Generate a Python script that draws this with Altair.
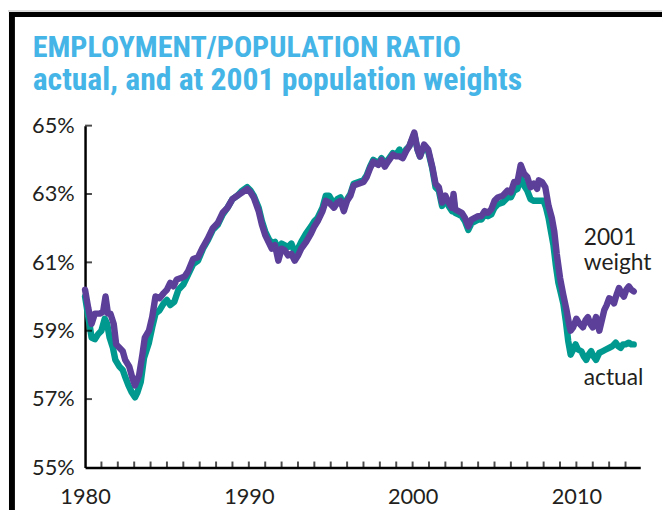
import altair as alt
import pandas as pd

# ---------------- data ----------------
actual_years = [1980.0, 1980.2, 1980.4, 1980.6, 1980.8, 1981.0, 1981.2, 1981.35, 1981.5, 1981.7,
                1981.85, 1982.1, 1982.3, 1982.45, 1982.65, 1982.85, 1983.05, 1983.2, 1983.4, 1983.6,
                1983.9, 1984.1, 1984.3, 1984.55, 1984.8, 1985.0, 1985.2, 1985.45, 1985.7, 1986.0,
                1986.3, 1986.6, 1986.9, 1987.2, 1987.5, 1987.8, 1988.1, 1988.4, 1988.7, 1989.0,
                1989.3, 1989.6, 1989.9, 1990.1, 1990.3, 1990.6, 1990.8, 1991.0, 1991.2, 1991.4,
                1991.6, 1991.8, 1992.0, 1992.2, 1992.4, 1992.6, 1992.8, 1993.0, 1993.2, 1993.5,
                1993.8, 1994.0, 1994.2, 1994.5, 1994.7, 1994.9, 1995.2, 1995.4, 1995.6, 1995.8,
                1996.0, 1996.2, 1996.4, 1996.7, 1997.0, 1997.2, 1997.4, 1997.6, 1997.9, 1998.1,
                1998.3, 1998.5, 1998.8, 1999.0, 1999.2, 1999.4, 1999.6, 1999.8, 2000.1, 2000.3,
                2000.45, 2000.7, 2000.95, 2001.2, 2001.4, 2001.6, 2001.8, 2002.0, 2002.2, 2002.4,
                2002.5, 2002.6, 2002.8, 2003.0, 2003.2, 2003.4, 2003.6, 2003.8, 2004.0, 2004.2,
                2004.4, 2004.6, 2004.8, 2005.0, 2005.2, 2005.5, 2005.8, 2006.0, 2006.2, 2006.4,
                2006.6, 2006.8, 2007.0, 2007.2, 2007.4, 2007.6, 2007.8, 2008.0, 2008.15, 2008.3,
                2008.45, 2008.6, 2008.75, 2008.9, 2009.05, 2009.2, 2009.35, 2009.5, 2009.65, 2009.8,
                2009.95, 2010.1, 2010.3, 2010.45, 2010.6, 2010.75, 2010.9, 2011.05, 2011.2, 2011.4,
                2011.6, 2011.8, 2012.0, 2012.2, 2012.4, 2012.55, 2012.7, 2012.85, 2013.0, 2013.2,
                2013.35, 2013.5]
actual_vals = [60.0, 59.4, 58.8, 58.75, 58.9, 59.0, 59.35, 59.2, 58.8, 58.5,
               58.15, 57.95, 57.85, 57.65, 57.4, 57.2, 57.05, 57.2, 57.5, 58.2,
               58.65, 59.1, 59.5, 59.6, 59.8, 59.9, 59.75, 59.85, 60.2, 60.35,
               60.65, 60.95, 61.05, 61.4, 61.65, 61.95, 62.1, 62.4, 62.6, 62.85,
               62.95, 63.1, 63.2, 63.1, 62.95, 62.6, 62.2, 61.9, 61.7, 61.55,
               61.6, 61.35, 61.55, 61.5, 61.45, 61.55, 61.3, 61.4, 61.6, 61.85,
               62.05, 62.2, 62.3, 62.6, 62.95, 62.95, 62.7, 62.85, 62.9, 62.6,
               62.85, 63.0, 63.3, 63.35, 63.4, 63.55, 63.8, 64.0, 63.9, 64.05,
               63.9, 64.0, 64.2, 64.15, 64.3, 64.1, 64.3, 64.4, 64.75, 64.3,
               64.1, 64.4, 64.25, 63.75, 63.2, 63.1, 62.65, 62.85, 62.65, 62.5,
               62.85, 62.45, 62.4, 62.35, 62.2, 61.95, 62.15, 62.2, 62.25, 62.25,
               62.4, 62.35, 62.4, 62.6, 62.7, 62.75, 62.9, 62.9, 63.1, 63.15,
               63.5, 63.25, 63.1, 62.85, 62.8, 62.8, 62.8, 62.8, 62.6, 62.3,
               61.9, 61.5, 60.9, 60.4, 60.1, 59.8, 59.3, 58.7, 58.3, 58.45,
               58.6, 58.45, 58.4, 58.25, 58.15, 58.3, 58.4, 58.25, 58.15, 58.35,
               58.4, 58.45, 58.5, 58.55, 58.65, 58.55, 58.5, 58.6, 58.6, 58.65,
               58.6, 58.6]

weight_years = [1980.0, 1980.2, 1980.4, 1980.6, 1980.9, 1981.1, 1981.25, 1981.4, 1981.55, 1981.75,
                1981.9, 1982.1, 1982.3, 1982.45, 1982.7, 1982.9, 1983.05, 1983.3, 1983.5, 1983.65,
                1983.9, 1984.1, 1984.3, 1984.55, 1984.8, 1985.0, 1985.2, 1985.4, 1985.6, 1985.9,
                1986.1, 1986.3, 1986.6, 1986.9, 1987.2, 1987.5, 1987.8, 1988.1, 1988.4, 1988.7,
                1989.0, 1989.3, 1989.6, 1989.9, 1990.1, 1990.3, 1990.6, 1990.8, 1991.0, 1991.2,
                1991.4, 1991.6, 1991.8, 1992.0, 1992.2, 1992.4, 1992.6, 1992.8, 1993.0, 1993.2,
                1993.5, 1993.8, 1994.0, 1994.2, 1994.5, 1994.7, 1994.9, 1995.2, 1995.4, 1995.6,
                1995.8, 1996.0, 1996.2, 1996.4, 1996.7, 1997.0, 1997.2, 1997.4, 1997.6, 1997.9,
                1998.1, 1998.3, 1998.5, 1998.8, 1999.0, 1999.2, 1999.4, 1999.6, 1999.8, 2000.1,
                2000.3, 2000.45, 2000.7, 2000.95, 2001.2, 2001.4, 2001.6, 2001.8, 2002.0, 2002.2,
                2002.4, 2002.5, 2002.6, 2002.8, 2003.0, 2003.2, 2003.4, 2003.6, 2003.8, 2004.0,
                2004.2, 2004.4, 2004.6, 2004.8, 2005.0, 2005.2, 2005.5, 2005.8, 2006.0, 2006.2,
                2006.4, 2006.6, 2006.8, 2007.0, 2007.2, 2007.4, 2007.6, 2007.7, 2007.9, 2008.1,
                2008.3, 2008.5, 2008.65, 2008.8, 2009.0, 2009.2, 2009.4, 2009.55, 2009.65, 2009.8,
                2010.0, 2010.2, 2010.4, 2010.55, 2010.7, 2010.85, 2011.0, 2011.2, 2011.4, 2011.55,
                2011.7, 2011.85, 2012.0, 2012.15, 2012.3, 2012.45, 2012.6, 2012.75, 2012.9, 2013.05,
                2013.2, 2013.35, 2013.5]
weight_vals = [60.2, 59.65, 59.2, 59.5, 59.5, 59.55, 60.0, 59.5, 59.5, 59.2,
               58.6, 58.5, 58.4, 58.15, 57.95, 57.6, 57.4, 57.7, 58.3, 58.8,
               59.0, 59.4, 60.0, 59.95, 60.1, 60.2, 60.4, 60.3, 60.5, 60.55,
               60.6, 60.75, 61.1, 61.15, 61.45, 61.7, 62.0, 62.15, 62.45, 62.6,
               62.85, 62.95, 63.05, 63.15, 63.05, 62.9, 62.5, 62.1, 61.8, 61.6,
               61.4, 61.5, 61.05, 61.4, 61.35, 61.2, 61.25, 61.05, 61.2, 61.4,
               61.6, 61.85, 62.05, 62.2, 62.5, 62.8, 62.75, 62.6, 62.75, 62.8,
               62.5, 62.8, 62.95, 63.25, 63.3, 63.35, 63.5, 63.75, 63.95, 63.85,
               64.0, 63.8, 63.95, 64.15, 64.1, 64.1, 64.05, 64.25, 64.4, 64.8,
               64.3, 64.1, 64.45, 64.3, 63.8, 63.3, 63.2, 62.75, 62.95, 62.75,
               62.6, 63.0, 62.55, 62.5, 62.45, 62.3, 62.05, 62.25, 62.3, 62.35,
               62.35, 62.5, 62.45, 62.55, 62.8, 62.9, 62.95, 63.1, 63.05, 63.35,
               63.35, 63.85, 63.6, 63.5, 63.2, 63.3, 63.15, 63.4, 63.35, 63.2,
               62.65, 62.3, 61.9, 61.25, 60.55, 60.05, 59.6, 59.2, 59.0, 59.1,
               59.35, 59.2, 59.1, 59.3, 59.4, 59.2, 59.1, 59.4, 59.0, 59.3,
               59.6, 59.75, 59.95, 59.9, 59.8, 60.05, 60.25, 60.1, 60.0, 60.2,
               60.3, 60.2, 60.15]

title_line1 = "EMPLOYMENT/POPULATION RATIO"
title_line2 = "actual, and at 2001 population weights"

label_texts = ["2001", "weight", "actual"]
label_years = [2010.45, 2010.45, 2010.45]
label_vals = [61.7, 60.98, 57.6]

x_label_years = [1980, 1990, 2000, 2010]
x_minor_years = list(range(1981, 2014))
y_label_vals = [55, 57, 59, 61, 63, 65]
y_tick_vals = [57, 59, 61, 63, 65]

TEAL = "#00998f"
PURPLE = "#5b3f99"
TITLE_BLUE = "#45b4e6"
INK = "#231f20"
TITLE_FONT = "'Roboto Condensed', 'DejaVu Sans Condensed', 'Liberation Sans Narrow', Roboto, sans-serif"

df_actual = pd.DataFrame({"year": actual_years, "ratio": actual_vals})
df_weight = pd.DataFrame({"year": weight_years, "ratio": weight_vals})
df_labels = pd.DataFrame({"text": label_texts, "year": label_years, "ratio": label_vals})
df_xticks = pd.DataFrame({"year": x_minor_years})
df_yticks = pd.DataFrame({"ratio": y_tick_vals})
df_one = pd.DataFrame({"k": [0]})

x_scale = alt.Scale(domain=[1980, 2013.9], nice=False, zero=False)
y_scale = alt.Scale(domain=[55, 65], nice=False, zero=False)

x_axis = alt.Axis(values=x_label_years, format="d", ticks=False, grid=False,
                  domainColor="black", domainWidth=2.5, labelFlush=False,
                  labelFont="Lato", labelColor=INK,
                  labelFontSize=22, labelPadding=19, title=None)
y_axis = alt.Axis(values=y_label_vals, labelExpr="datum.value + '%'", ticks=False, grid=False,
                  domainColor="black", domainWidth=2.5, labelFlush=False,
                  labelFont="Lato", labelColor=INK,
                  labelFontSize=22, labelPadding=11, title=None)

X = alt.X("year:Q", scale=x_scale, axis=x_axis)
Y = alt.Y("ratio:Q", scale=y_scale, axis=y_axis)

line_actual = alt.Chart(df_actual).mark_line(
    color=TEAL, strokeWidth=6.5, strokeJoin="round", strokeCap="round"
).encode(x=X, y=Y)

line_weight = alt.Chart(df_weight).mark_line(
    color=PURPLE, strokeWidth=6.5, strokeJoin="round", strokeCap="round"
).encode(x=X, y=Y)

xticks = alt.Chart(df_xticks).mark_tick(
    orient="vertical", color="black", size=6, thickness=2, yOffset=-3
).encode(x=alt.X("year:Q", scale=x_scale), y=alt.datum(55))

yticks = alt.Chart(df_yticks).mark_tick(
    orient="horizontal", color="black", size=7, thickness=2, xOffset=3.5
).encode(y=alt.Y("ratio:Q", scale=y_scale), x=alt.datum(1980))

labels = alt.Chart(df_labels).mark_text(
    align="left", baseline="middle", fontSize=23, font="Lato", color=INK
).encode(x=alt.X("year:Q", scale=x_scale), y=alt.Y("ratio:Q", scale=y_scale), text="text:N")

# title, as two text lines above the plot
title1 = alt.Chart(df_one).mark_text(
    align="left", baseline="alphabetic", font=TITLE_FONT, fontSize=30.5,
    fontWeight="bold", color=TITLE_BLUE, text=title_line1
).encode(x=alt.value(-53), y=alt.value(-69))
title2 = alt.Chart(df_one).mark_text(
    align="left", baseline="alphabetic", font=TITLE_FONT, fontSize=32,
    fontWeight="bold", color=TITLE_BLUE, text=title_line2
).encode(x=alt.value(-53), y=alt.value(-36))

# decorative frame (gray strip + black border, as in the source page)
frame_top_gray = alt.Chart(df_one).mark_rule(color="#dcdcdc", strokeWidth=2).encode(
    x=alt.value(-78), x2=alt.value(584), y=alt.value(-116))
frame_top = alt.Chart(df_one).mark_rule(color="black", strokeWidth=5).encode(
    x=alt.value(-77), x2=alt.value(584), y=alt.value(-112.5))
frame_left = alt.Chart(df_one).mark_rule(color="black", strokeWidth=6).encode(
    x=alt.value(-74), y=alt.value(-115), y2=alt.value(390))

chart = alt.layer(
    frame_top_gray, frame_top, frame_left, title1, title2,
    line_actual, line_weight, xticks, yticks, labels
).properties(
    width=562, height=346,
    autosize=alt.AutoSizeParams(type="none"),
    padding={"left": 78, "top": 116, "right": 22, "bottom": 40},
).configure_view(stroke=None)

chart.save("out.html", embed_options={"renderer": "svg", "actions": False})
